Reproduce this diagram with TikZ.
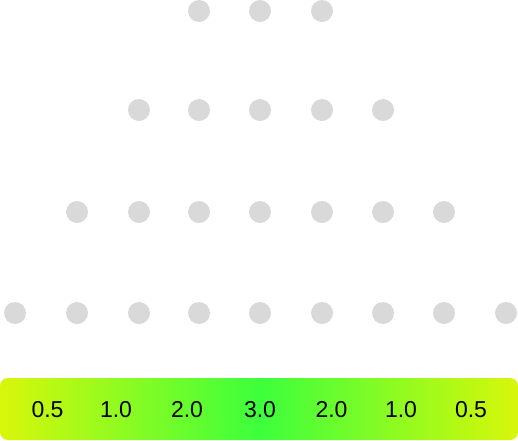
\documentclass[tikz,border=0pt]{standalone}
\usepackage{fontspec}
\setmainfont{Liberation Sans}
\definecolor{dotgray}{HTML}{D9D9D9}
\definecolor{edgeyg}{HTML}{D8F70A}
\definecolor{midgreen}{HTML}{3CFF3C}
\begin{document}
\begin{tikzpicture}[x=1pt,y=-1pt,
  dot/.style={circle,fill=dotgray,minimum size=22pt,inner sep=0pt},
  lbl/.style={font=\fontsize{23}{26}\selectfont,text=black,inner sep=0pt,anchor=center}]
\useasboundingbox (0,0) rectangle (518,440);
% row 1
\foreach \x [count=\i] in {199,260,322} \node[dot] (a\i) at (\x,11) {};
% row 2
\foreach \x [count=\i] in {139,199,260,322,383} \node[dot] (b\i) at (\x,110) {};
% row 3
\foreach \x [count=\i] in {77,139,199,260,322,383,444} \node[dot] (c\i) at (\x,212) {};
% row 4
\foreach \x [count=\i] in {15,77,139,199,260,322,383,444,506} \node[dot] (d\i) at (\x,313) {};
% bar
\shade[rounded corners=8pt,left color=edgeyg,right color=edgeyg,middle color=midgreen] (0,378) rectangle (518,440);
\foreach \x/\t [count=\i] in {47.5/0.5,116/1.0,187/2.0,260/3.0,331.5/2.0,401/1.0,471/0.5}
  \node[lbl] (l\i) at (\x,409.5) {\t};
\end{tikzpicture}
\end{document}
